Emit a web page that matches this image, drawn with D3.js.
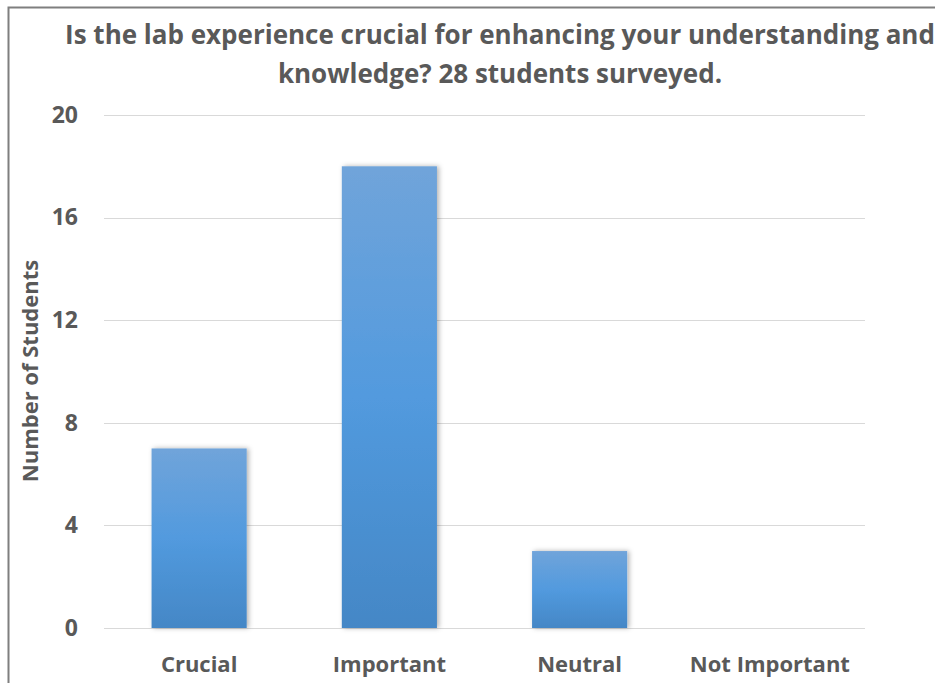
<!DOCTYPE html>
<html>
<head>
<meta charset="utf-8">
<script src="https://cdn.jsdelivr.net/npm/d3@7"></script>
<style>
  body { margin: 0; background: #fff; }
  text { font-family: "Open Sans", sans-serif; font-weight: bold; fill: #595959; }
</style>
</head>
<body>
<div class="chart"></div>
<script>
const categories = ["Crucial", "Important", "Neutral", "Not Important"];
const students = [7, 18, 3, 0];
const yTicks = [0, 4, 8, 12, 16, 20];
const titleLines = ["Is the lab experience crucial for enhancing your understanding and",
                    "knowledge? 28 students surveyed."];

const w = 935;
const h = 683;
const plotLeft = 104, plotRight = 865, plotTop = 115, plotBottom = 628;

let svg = d3.select(".chart").append("svg")
  .attr("width", w)
  .attr("height", h);

// frame
svg.append("rect")
  .attr("x", 8.5).attr("y", 7.5)
  .attr("width", 1000).attr("height", 1000)
  .attr("fill", "none")
  .attr("stroke", "#7f7f7f")
  .attr("stroke-width", 2);

let defs = svg.append("defs");
let grad = defs.append("linearGradient")
  .attr("id", "barGrad")
  .attr("x1", 0).attr("y1", 0).attr("x2", 0).attr("y2", 1);
grad.append("stop").attr("offset", "0%").attr("stop-color", "#70a4da");
grad.append("stop").attr("offset", "50%").attr("stop-color", "#529ade");
grad.append("stop").attr("offset", "100%").attr("stop-color", "#4487c6");

let shadow = defs.append("filter")
  .attr("id", "shadow")
  .attr("x", "-20%").attr("y", "-20%").attr("width", "140%").attr("height", "140%");
shadow.append("feDropShadow")
  .attr("dx", 2).attr("dy", 0).attr("stdDeviation", 2.5)
  .attr("flood-color", "#000").attr("flood-opacity", 0.3);

// title
svg.append("g").selectAll("text")
  .data(titleLines)
  .enter()
  .append("text")
  .attr("x", 500)
  .attr("y", (d, i) => 44 + i * 39)
  .attr("text-anchor", "middle")
  .attr("font-size", 26)
  .text(d => d);

let x = d3.scaleBand()
  .domain(categories)
  .range([plotLeft, plotRight])
  .paddingInner(0.5)
  .paddingOuter(0.25);

let y = d3.scaleLinear()
  .domain([0, 20])
  .range([plotBottom, plotTop]);

// gridlines
svg.append("g")
  .selectAll("line")
  .data(yTicks)
  .enter()
  .append("line")
  .attr("x1", plotLeft).attr("x2", plotRight)
  .attr("y1", d => Math.round(y(d)) + 0.5)
  .attr("y2", d => Math.round(y(d)) + 0.5)
  .attr("stroke", "#d9d9d9")
  .attr("stroke-width", 1);

// bars
svg.append("g")
  .selectAll("rect")
  .data(students)
  .enter()
  .append("rect")
  .attr("x", (d, i) => x(categories[i]))
  .attr("y", d => y(d))
  .attr("width", x.bandwidth())
  .attr("height", d => plotBottom - y(d))
  .attr("fill", "url(#barGrad)")
  .attr("filter", "url(#shadow)");

// y axis
const yAxis = d3.axisLeft(y).tickValues(yTicks).tickSize(0).tickPadding(26);
let yg = svg.append("g")
  .attr("transform", "translate(" + plotLeft + ",0)")
  .call(yAxis);
yg.select(".domain").remove();
yg.selectAll("text").attr("font-size", 23).attr("fill", "#595959").attr("font-family", null);

// x axis
const xAxis = d3.axisBottom(x).tickSize(0).tickPadding(28);
let xg = svg.append("g")
  .attr("transform", "translate(0," + plotBottom + ")")
  .call(xAxis);
xg.select(".domain").remove();
xg.selectAll("text").attr("font-size", 22).attr("fill", "#595959").attr("font-family", null);

// y axis title
svg.append("text")
  .attr("transform", "translate(38,371) rotate(-90)")
  .attr("text-anchor", "middle")
  .attr("font-size", 22)
  .text("Number of Students");
</script>
</body>
</html>
